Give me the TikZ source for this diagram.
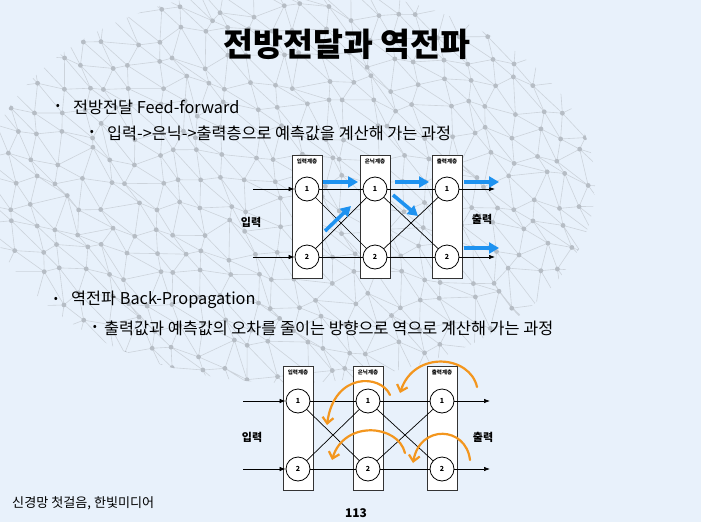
\documentclass[tikz,border=0pt]{standalone}
\usepackage{fontspec}
\setmainfont{Noto Sans CJK KR}
\usetikzlibrary{arrows.meta,positioning}

\definecolor{slidebg}{RGB}{232,241,251}
\definecolor{meshline}{RGB}{204,211,219}
\definecolor{meshdot}{RGB}{182,189,197}
\definecolor{fwdblue}{RGB}{30,146,240}
\definecolor{bwdorange}{RGB}{243,150,30}

\begin{document}
\begin{tikzpicture}[x=1pt, y=-1pt,
    layerbox/.style={draw=black!80, fill=white, line width=0.9pt, minimum width=30pt, inner sep=0pt},
    layername/.style={font=\fontsize{5.5}{6}\selectfont\bfseries, inner sep=0pt},
    neuron/.style={circle, draw, fill=white, line width=0.8pt, minimum size=24pt, inner sep=0pt, font=\fontsize{7}{7}\selectfont\bfseries},
    wire/.style={line width=0.7pt},
    inout/.style={line width=0.7pt, -{Latex[length=6pt,width=4.5pt]}},
    fwd/.style={draw=fwdblue, line width=3.6pt, -{Triangle[length=10pt,width=11pt]}},
    bwd/.style={draw=bwdorange, line width=2.2pt, line cap=round, -{Straight Barb[length=6pt,width=11pt]}},
    iolabel/.style={font=\fontsize{11}{11}\selectfont\bfseries},
    dot/.style={font=\fontsize{12}{12}\selectfont},
    item/.style={font=\fontsize{16.3}{17}\selectfont, anchor=west, inner sep=0pt},
  ]
  \useasboundingbox[fill=slidebg] (0,0) rectangle (701,522);

  % background net
  \begin{scope}
    \clip (290,185) ellipse (305 and 198);
    \pgfmathsetseed{4}
    \foreach \i in {0,...,27}{
      \foreach \j in {0,...,18}{
        \pgfmathsetmacro\mx{-12+24*\i+9*rand}
        \pgfmathsetmacro\my{-12+24*\j+9*rand}
        \coordinate (m-\i-\j) at (\mx,\my);
      }
    }
    \foreach \i in {0,...,26}{
      \foreach \j in {0,...,17}{
        \pgfmathtruncatemacro\ni{\i+1}
        \pgfmathtruncatemacro\nj{\j+1}
        \draw[meshline, line width=0.6pt] (m-\i-\j) -- (m-\ni-\j) (m-\i-\j) -- (m-\i-\nj) (m-\i-\j) -- (m-\ni-\nj);
        \fill[meshdot] (m-\i-\j) circle (2.4);
      }
    }
  \end{scope}

  % title and text
  \node[font=\fontsize{32.5}{33}\selectfont\bfseries] (title) at (347,44) {전방전달과 역전파};

  \node[dot] (d1) at (58,107) {•};
  \node[item] (t1) at (73,107) {전방전달 Feed-forward};
  \node[dot] (d2) at (92,133) {•};
  \node[item] (t2) at (107,133) {입력->은닉->출력층으로 예측값을 계산해 가는 과정};
  \node[dot] (d3) at (56,300) {•};
  \node[item] (t3) at (71,300) {역전파 Back-Propagation};
  \node[dot] (d4) at (95,328) {•};
  \node[item] (t4) at (104,328) {출력값과 예측값의 오차를 줄이는 방향으로 역으로 계산해 가는 과정};

  \node[font=\fontsize{13.1}{13}\selectfont, anchor=west, inner sep=0pt] (book) at (12,503) {신경망 첫걸음, 한빛미디어};
  \node[font=\fontsize{12}{12}\selectfont\bfseries] (page) at (356,513) {113};

  % feed-forward net
  \node[layerbox, minimum height=123pt] (ia) at (307,216.5) {};
  \node[layerbox, minimum height=123pt] (ha) at (375,216.5) {};
  \node[layerbox, minimum height=123pt] (oa) at (447,216.5) {};
  \node[layername, below=4pt of ia.north] (ial) {입력계층};
  \node[layername, below=4pt of ha.north] (hal) {은닉계층};
  \node[layername, below=4pt of oa.north] (oal) {출력계층};

  \node[neuron] (i1) at (307,189) {1};
  \node[neuron] (i2) at (307,257) {2};
  \node[neuron] (h1) at (375,189) {1};
  \node[neuron] (h2) at (375,257) {2};
  \node[neuron] (o1) at (447,189) {1};
  \node[neuron] (o2) at (447,257) {2};

  \foreach \a/\b in {i1/h1, i1/h2, i2/h1, i2/h2, h1/o1, h1/o2, h2/o1, h2/o2}
    \draw[wire] (\a) -- (\b);

  \coordinate (x1) at (253,189);
  \coordinate (x2) at (253,257);
  \coordinate (y1) at (495,189);
  \coordinate (y2) at (495,257);
  \draw[inout] (x1) -- (i1);
  \draw[inout] (x2) -- (i2);
  \draw[inout] (o1) -- (y1);
  \draw[inout] (o2) -- (y2);
  \node[iolabel] (inl) at (251,222) {입력};
  \node[iolabel] (outl) at (482,219) {출력};

  \coordinate (f1s) at (323,182);  \coordinate (f1e) at (358,182);
  \coordinate (f2s) at (395,182);  \coordinate (f2e) at (429,182);
  \coordinate (f3s) at (325,231);  \coordinate (f3e) at (351,206);
  \coordinate (f4s) at (393,195);  \coordinate (f4e) at (418,216);
  \coordinate (f5s) at (464,182);  \coordinate (f5e) at (499,182);
  \coordinate (f6s) at (464,248);  \coordinate (f6e) at (499,248);
  \foreach \k in {1,...,6}
    \draw[fwd] (f\k s) -- (f\k e);

  % back-propagation net
  \node[layerbox, minimum height=124pt] (bia) at (298,428) {};
  \node[layerbox, minimum height=124pt] (bha) at (368,428) {};
  \node[layerbox, minimum height=124pt] (boa) at (442,428) {};
  \node[layername, below=4pt of bia.north] (bial) {입력계층};
  \node[layername, below=4pt of bha.north] (bhal) {은닉계층};
  \node[layername, below=4pt of boa.north] (boal) {출력계층};

  \node[neuron] (bi1) at (298,401) {1};
  \node[neuron] (bi2) at (298,469) {2};
  \node[neuron] (bh1) at (368,401) {1};
  \node[neuron] (bh2) at (368,469) {2};
  \node[neuron] (bo1) at (442,401) {1};
  \node[neuron] (bo2) at (442,469) {2};

  \foreach \a/\b in {bi1/bh1, bi1/bh2, bi2/bh1, bi2/bh2, bh1/bo1, bh1/bo2, bh2/bo1, bh2/bo2}
    \draw[wire] (\a) -- (\b);

  \coordinate (bx1) at (243,401);
  \coordinate (bx2) at (243,469);
  \coordinate (by1) at (490,401);
  \coordinate (by2) at (490,469);
  \draw[inout] (bx1) -- (bi1);
  \draw[inout] (bx2) -- (bi2);
  \draw[inout] (bo1) -- (by1);
  \draw[inout] (bo2) -- (by2);
  \node[iolabel] (binl) at (252,437) {입력};
  \node[iolabel] (boutl) at (483,437) {출력};

  \coordinate (b1s) at (390,395);  \coordinate (b1e) at (327,425);
  \coordinate (b2s) at (405,453);  \coordinate (b2e) at (332,460);
  \coordinate (b3s) at (477,387);  \coordinate (b3e) at (400,393);
  \coordinate (b4s) at (470,460);  \coordinate (b4e) at (413,463);
  \draw[bwd] (b1s) .. controls (381,374) and (334,372) .. (b1e);
  \draw[bwd] (b2s) .. controls (398,424) and (344,420) .. (b2e);
  \draw[bwd] (b3s) .. controls (470,355) and (414,350) .. (b3e);
  \draw[bwd] (b4s) .. controls (466,426) and (420,424) .. (b4e);
\end{tikzpicture}
\end{document}
